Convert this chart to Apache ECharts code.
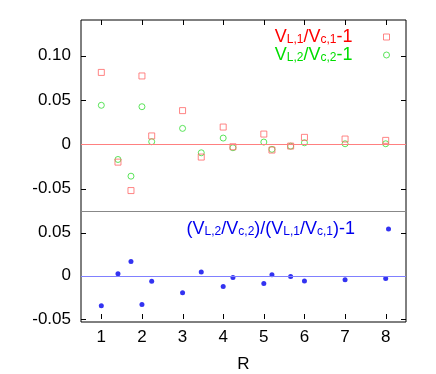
<!DOCTYPE html>
<html>
<head>
<meta charset="utf-8">
<script src="https://cdn.jsdelivr.net/npm/echarts@6/dist/echarts.min.js"></script>
<style>
html, body { margin: 0; padding: 0; background: #fff; }
#main { width: 436px; height: 374px; }
</style>
</head>
<body>
<div id="main"></div>
<script>
var R = [1, 1.41, 1.73, 2, 2.24, 3, 3.46, 4, 4.24, 5, 5.2, 5.66, 6, 7, 8];
var dev1 = [0.081, -0.020, -0.052, 0.077, 0.0095, 0.038, -0.0143, 0.0195, -0.0027, 0.0116, -0.0064, -0.0019, 0.0079, 0.006, 0.0045];
var dev2 = [0.044, -0.017, -0.0358, 0.0424, 0.003, 0.018, -0.0095, 0.0071, -0.0038, 0.0026, -0.0056, -0.002, 0.0018, 0.0007, 0.0007];
var ratio = [-0.0346, 0.0023, 0.0165, -0.0331, -0.0064, -0.0196, 0.0045, -0.0124, -0.0019, -0.009, 0.0011, -0.0008, -0.006, -0.0045, -0.003];
var xTicks = [1, 2, 3, 4, 5, 6, 7, 8];
var yTicksTop = [-0.05, 0, 0.05, 0.1];
var yTicksBottom = [-0.05, 0, 0.05];

var font = 'Liberation Sans, Arial, sans-serif';
var red = '#ff0000', green = '#00dd00', blue = '#0000ee';
var tickLen = 5;

function pairs(ys) {
	return R.map(function(r, i) { return [r, ys[i]]; });
}

function yLabel(v) {
	return v === 0 ? '0' : v.toFixed(2);
}

var legendText = {
	dev1: '{v|V}{s|L,1}{v|/V}{s|c,1}{v|-1}{g| }',
	dev2: '{v|V}{s|L,2}{v|/V}{s|c,2}{v|-1}{g| }',
	ratio: '{v|(V}{s|L,2}{v|/V}{s|c,2}{v|)/(V}{s|L,1}{v|/V}{s|c,1}{v|)-1}{g| }'
};
var rich = {
	v: { fontSize: 18, lineHeight: 18, fontFamily: font },
	s: { fontSize: 12, lineHeight: 12, verticalAlign: 'bottom', fontFamily: font },
	g: { width: 26, fontSize: 12 }
};

function tickLine(x1, y1, x2, y2) {
	return { type: 'line', shape: { x1: x1, y1: y1, x2: x2, y2: y2 }, style: { stroke: '#000', lineWidth: 1 } };
}

// inward ticks drawn through the axis scales; edge = 'top' or 'bottom'
function xTickSeries(xi, yi, y0, edge) {
	return {
		type: 'custom', xAxisIndex: xi, yAxisIndex: yi, silent: true, z: 4,
		data: xTicks.map(function(x) { return [x, y0]; }),
		renderItem: function(params, api) {
			var cs = params.coordSys;
			var px = Math.round(api.coord([api.value(0), api.value(1)])[0]) + 0.5;
			var y = edge === 'top' ? cs.y : cs.y + cs.height;
			var d = edge === 'top' ? tickLen : -tickLen;
			return tickLine(px, y, px, y + d);
		}
	};
}

// ticks on both left and right edges
function yTickSeries(xi, yi, ticks) {
	return {
		type: 'custom', xAxisIndex: xi, yAxisIndex: yi, silent: true, z: 4,
		data: ticks.map(function(v) { return [1, v]; }),
		renderItem: function(params, api) {
			var cs = params.coordSys;
			var py = Math.round(api.coord([api.value(0), api.value(1)])[1]) + 0.5;
			return {
				type: 'group',
				children: [
					tickLine(cs.x, py, cs.x + tickLen, py),
					tickLine(cs.x + cs.width - tickLen, py, cs.x + cs.width, py)
				]
			};
		}
	};
}

function valueAxis(grid, min, max, opts) {
	var a = {
		type: 'value', gridIndex: grid, min: min, max: max,
		axisLine: { show: false },
		axisTick: { show: false },
		axisLabel: { show: false },
		splitLine: { show: false }
	};
	for (var k in opts) a[k] = opts[k];
	return a;
}

var yLabelStyle = function(ticks) {
	return { show: true, customValues: ticks.slice(), formatter: yLabel, margin: 10,
		color: '#000', fontSize: 17, fontFamily: font };
};

var myChart = echarts.init(document.getElementById('main'));

var option = {
	backgroundColor: '#fff',
	animation: false,
	grid: [
		{ left: 81, top: 20, width: 325, height: 191 },
		{ left: 81, top: 211, width: 325, height: 111 },
		// outer frame round both panels
		{ left: 81, top: 20, width: 325, height: 302, show: true, borderColor: '#000', borderWidth: 1 }
	],
	legend: [{
		orient: 'vertical', align: 'right', right: 46, top: 28, padding: 0, itemGap: 0,
		itemWidth: 6, itemHeight: 6,
		formatter: function(name) { return legendText[name]; },
		textStyle: { rich: rich, fontFamily: font },
		data: [
			{ name: 'dev1', textStyle: { color: red },
				itemStyle: { color: 'rgba(0,0,0,0)', borderColor: '#ff6666', borderWidth: 1 } },
			{ name: 'dev2', textStyle: { color: green },
				itemStyle: { color: 'rgba(0,0,0,0)', borderColor: '#33dd33', borderWidth: 1 } }
		]
	}, {
		orient: 'vertical', align: 'right', right: 45, top: 220, padding: 0,
		itemWidth: 5, itemHeight: 5,
		formatter: function(name) { return legendText[name]; },
		textStyle: { rich: rich, fontFamily: font },
		data: [{ name: 'ratio', textStyle: { color: blue } }]
	}],
	xAxis: [
		valueAxis(0, 0.5, 8.5, { position: 'bottom',
			axisLine: { show: true, onZero: false, lineStyle: { color: '#888' } } }),
		valueAxis(1, 0.5, 8.5, { position: 'bottom',
			axisLabel: { show: true, customValues: xTicks.slice(), margin: 10, color: '#000', fontSize: 17, fontFamily: font },
			name: 'R', nameLocation: 'middle', nameGap: 37,
			nameTextStyle: { color: '#000', fontSize: 17, fontFamily: font } }),
		valueAxis(2, 0, 1, { show: false })
	],
	yAxis: [
		valueAxis(0, -0.075, 0.14, { position: 'left', axisLabel: yLabelStyle(yTicksTop) }),
		valueAxis(1, -0.05, 0.075, { position: 'left', axisLabel: yLabelStyle(yTicksBottom) }),
		valueAxis(2, 0, 1, { show: false })
	],
	series: [{
		name: 'dev1',
		type: 'scatter',
		xAxisIndex: 0, yAxisIndex: 0,
		symbol: 'rect', symbolSize: 6,
		itemStyle: { color: 'rgba(0,0,0,0)', borderColor: '#ff6666', borderWidth: 1 },
		data: pairs(dev1),
		markLine: {
			silent: true, symbol: 'none', label: { show: false },
			lineStyle: { color: '#ff8080', type: 'solid', width: 1 },
			data: [{ yAxis: 0 }]
		},
		z: 3
	}, {
		name: 'dev2',
		type: 'scatter',
		xAxisIndex: 0, yAxisIndex: 0,
		symbol: 'circle', symbolSize: 6,
		itemStyle: { color: 'rgba(0,0,0,0)', borderColor: '#33dd33', borderWidth: 1 },
		data: pairs(dev2),
		z: 2
	}, {
		name: 'ratio',
		type: 'scatter',
		xAxisIndex: 1, yAxisIndex: 1,
		symbol: 'circle', symbolSize: 5,
		itemStyle: { color: blue },
		data: pairs(ratio),
		markLine: {
			silent: true, symbol: 'none', label: { show: false },
			lineStyle: { color: '#8080ff', type: 'solid', width: 1 },
			data: [{ yAxis: 0 }]
		}
	},
	xTickSeries(0, 0, 0, 'top'),
	xTickSeries(1, 1, 0, 'bottom'),
	yTickSeries(0, 0, yTicksTop),
	yTickSeries(1, 1, yTicksBottom)
	]
};

myChart.setOption(option);
</script>
</body>
</html>
